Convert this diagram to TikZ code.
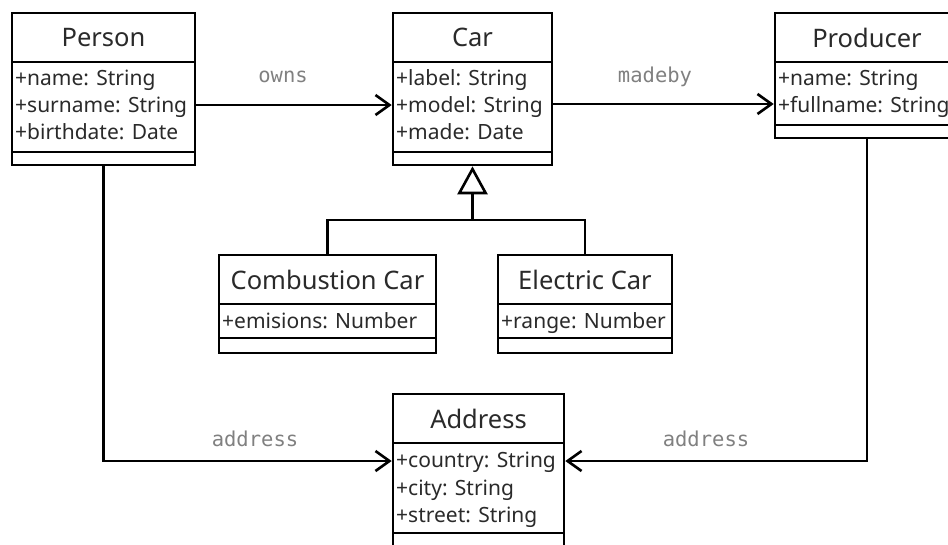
\documentclass[tikz,border=0pt]{standalone}
\usepackage{fontspec}
\setmainfont{Noto Sans}
\newfontfamily\lblfont{DejaVu Sans Mono}
\usetikzlibrary{arrows.meta,fit}
\definecolor{txt}{HTML}{2A2A2A}
\definecolor{lblgray}{HTML}{808080}
\tikzset{
  classbox/.style={draw=black, line width=2.6pt, inner sep=0pt, fill=white},
  boxline/.style={draw=black, line width=2.6pt},
  ctitle/.style={text=txt, font=\fontsize{25.5}{29}\selectfont, inner sep=0pt},
  attr/.style={text=txt, font=\fontsize{21}{27}\selectfont, inner sep=0pt, anchor=west, text height=0.75em, text depth=0.22em},
  lbl/.style={text=lblgray, font=\lblfont\fontsize{20.5}{23}\selectfont, inner sep=0pt},
  assoc/.style={line width=2.6pt, -{Straight Barb[length=14pt,width=20pt,line width=2.6pt]}},
  inherit/.style={line width=2.6pt, -{Triangle[open,length=28pt,width=30pt,line width=2.6pt,fill=white]}},
}
\newcommand\umlbox[8]{%
  \node[classbox, fit={(#2,#4)(#3,#7)}] (#1) {};
  \draw[boxline] (#2,#5) -- (#3,#5) (#2,#6) -- (#3,#6);
  \node[ctitle] (#1-title) at ({(#2+#3)/2},{(#4+#5)/2}) {#8};
}
\begin{document}
\begin{tikzpicture}[x=1pt,y=-1pt]
\useasboundingbox (0,0) rectangle (948,544);
% Person
\umlbox{person}{12}{195}{13}{62}{152}{165}{Person}
\node[attr] (person-a1) at (15,83) {+name: String};
\node[attr] (person-a2) at (15,110) {+surname: String};
\node[attr] (person-a3) at (15,137) {+birthdate: Date};
% Car
\umlbox{car}{393}{552}{13}{62}{152}{165}{Car}
\node[attr] (car-a1) at (396,83) {+label: String};
\node[attr] (car-a2) at (396,110) {+model: String};
\node[attr] (car-a3) at (396,137) {+made: Date};
% Producer
\umlbox{producer}{775}{959}{13}{62}{125}{138}{Producer}
\node[attr] (producer-a1) at (778,83) {+name: String};
\node[attr] (producer-a2) at (778,110) {+fullname: String};
% Combustion Car
\umlbox{comb}{219}{436}{255}{304}{338}{353}{Combustion Car}
\node[attr] (comb-a1) at (222,326) {+emisions: Number};
% Electric Car
\umlbox{elec}{498}{672}{255}{304}{338}{353}{Electric Car}
\node[attr] (elec-a1) at (501,326) {+range: Number};
% Address
\umlbox{addr}{393}{564}{394}{443}{533}{548}{Address}
\node[attr] (addr-a1) at (396,465) {+country: String};
\node[attr] (addr-a2) at (396,493) {+city: String};
\node[attr] (addr-a3) at (396,520) {+street: String};
% associations
\coordinate (ownsY) at (0,105);
\coordinate (madebyY) at (0,104);
\coordinate (addrY) at (0,461);
\draw[assoc] (ownsY -| person.east) -- (ownsY -| car.west);
\node[lbl] (owns) at (283,77) {owns};
\draw[assoc] (madebyY -| car.east) -- (madebyY -| producer.west);
\node[lbl] (madeby) at (655,77) {madeby};
\draw[assoc] (person.south) |- (addrY -| addr.west);
\node[lbl] (addrL) at (255,439) {address};
\draw[assoc] (producer.south) |- (addrY -| addr.east);
\node[lbl] (addrR) at (706,439) {address};
% generalization
\coordinate (junc) at (472.5,220);
\draw[line width=2.6pt] (comb.north) |- (junc) -| (elec.north);
\draw[inherit] (junc) -- (car.south);
\end{tikzpicture}
\end{document}
